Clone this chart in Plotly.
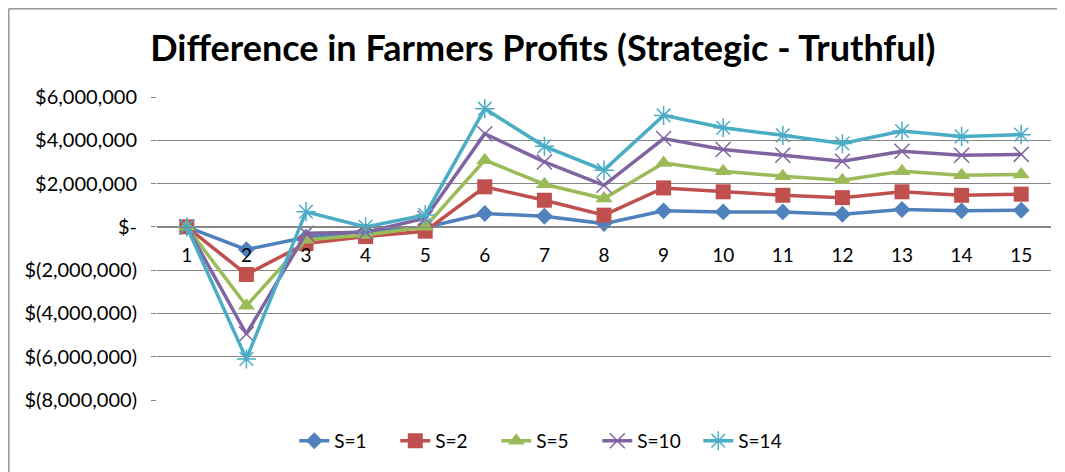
import plotly.graph_objects as go

categories = [str(i) for i in range(1, 16)]

s1 = [0, -1050000, -480000, -200000, -30000, 620000, 490000, 150000, 740000, 690000, 690000, 580000, 800000, 740000, 770000]
s2 = [0, -2200000, -770000, -450000, -200000, 1850000, 1230000, 540000, 1800000, 1620000, 1460000, 1350000, 1620000, 1460000, 1510000]
s5 = [0, -3650000, -600000, -380000, 0, 3080000, 1970000, 1310000, 2950000, 2570000, 2340000, 2150000, 2570000, 2380000, 2420000]
s10 = [0, -4950000, -300000, -250000, 400000, 4300000, 3000000, 1920000, 4080000, 3570000, 3310000, 3030000, 3490000, 3310000, 3350000]
s14 = [0, -6100000, 700000, 0, 550000, 5460000, 3720000, 2620000, 5150000, 4580000, 4230000, 3850000, 4430000, 4180000, 4260000]

series_names = ["S=1", "S=2", "S=5", "S=10", "S=14"]
series_values = [s1, s2, s5, s10, s14]
colors = ["#4F81BD", "#C0504D", "#9BBB59", "#8064A2", "#4BACC6"]
symbols = ["diamond", "square", "triangle-up", "x-thin-open", "asterisk-open"]
sizes = [13, 15, 15, 15, 16]

y_tickvals = [6000000, 4000000, 2000000, 0, -2000000, -4000000, -6000000, -8000000]
y_ticktext = ["$6,000,000", "$4,000,000", "$2,000,000", "$-", "$(2,000,000)",
              "$(4,000,000)", "$(6,000,000)", "$(8,000,000)"]

title_text = "Difference in Farmers Profits (Strategic - Truthful)"
FONT = "Lato"

# the page body has an 8px default margin; size the figure so it fits the window
W, H = 1057, 464
ML, MR, MT, MB = 149, 14, 89, 72
PW, PH = W - ML - MR, H - MT - MB

fig = go.Figure()
for name, vals, c, sym, sz in zip(series_names, series_values, colors, symbols, sizes):
    mk = dict(symbol=sym, size=sz, color=c)
    if sym.endswith("open"):
        mk["line"] = dict(color=c, width=1.5)
    fig.add_trace(go.Scatter(x=categories, y=vals, name=name, mode="lines+markers",
                             line=dict(color=c, width=3.5), marker=mk))

ymin, ymax = -8000000, 6000000
fig.update_layout(
    width=W, height=H,
    margin=dict(l=ML, r=MR, t=MT, b=MB),
    paper_bgcolor="white", plot_bgcolor="white",
    font=dict(family=FONT, size=19, color="black"),
    title=dict(text="<b>" + title_text + "</b>", x=0.506, xanchor="center",
               y=1 - 40 / H, yanchor="middle",
               font=dict(family=FONT, size=36, color="black")),
    xaxis=dict(type="category", range=[-0.5, 14.5], anchor="free",
               position=(0 - ymin) / (ymax - ymin),
               showgrid=False, showline=True, linecolor="#868686", linewidth=1,
               ticks="", ticklabelstandoff=11, tickfont=dict(size=19), zeroline=False),
    yaxis=dict(range=[ymin, ymax], tickvals=y_tickvals, ticktext=y_ticktext,
               showgrid=True, gridcolor="#868686", gridwidth=1, zeroline=False,
               showline=False, ticks="outside", ticklen=5, tickcolor="#868686",
               ticklabelstandoff=10, tickfont=dict(size=20)),
    legend=dict(orientation="h", x=0.436, xanchor="center", y=-0.135, yanchor="middle",
                font=dict(size=19), tracegroupgap=0, entrywidth=56),
    showlegend=True,
)

border = dict(color="#969696", width=1.5)
fig.add_shape(type="line", xref="paper", yref="paper",
              x0=(0.8 - ML) / PW, x1=(0.8 - ML) / PW,
              y0=-(MB + 10) / PH, y1=(PH + MT - 0.8) / PH, line=border, layer="below")
fig.add_shape(type="line", xref="paper", yref="paper",
              x0=(0.8 - ML) / PW, x1=(W - ML) / PW,
              y0=(PH + MT - 0.8) / PH, y1=(PH + MT - 0.8) / PH, line=border, layer="below")

fig.write_html("out.html", config={"displayModeBar": False})
